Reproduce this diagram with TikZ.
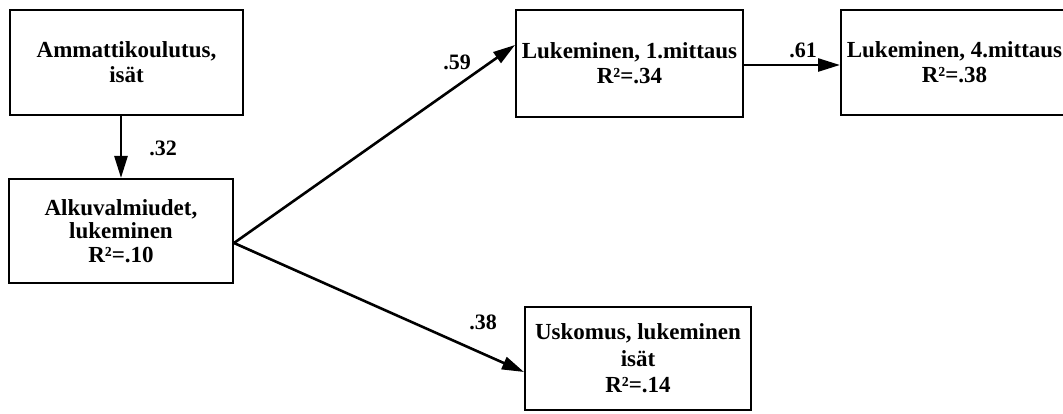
\documentclass[tikz,border=0pt]{standalone}
\usepackage{fontspec}
\setmainfont{Liberation Serif}
\usetikzlibrary{arrows.meta}
\tikzset{
  box/.style={draw, line width=2pt, inner sep=0pt, align=center,
    font=\fontsize{23}{25}\selectfont\bfseries},
  conn/.style={line width=2.6pt, -{Triangle[length=22pt,width=13pt]}},
  coef/.style={inner sep=0pt, font=\fontsize{22}{24}\selectfont\bfseries}
}
\begin{document}
\begin{tikzpicture}[x=1pt,y=-1pt]
\useasboundingbox (0,0) rectangle (1063,414);
\node[box, minimum width=233pt, minimum height=105pt] (A) at (126.5,62.5)
  {Ammattikoulutus,\\isät};
\node[box, minimum width=224pt, minimum height=104pt,
  font=\fontsize{23}{23.5}\selectfont\bfseries] (B) at (121,231)
  {Alkuvalmiudet,\\lukeminen\\R²=.10};
\node[box, minimum width=227pt, minimum height=107pt] (C) at (629.5,63.5)
  {Lukeminen, 1.mittaus\\R²=.34};
\node[box, minimum width=227pt, minimum height=105pt] (D) at (954.5,62.5)
  {Lukeminen, 4.mittaus\\R²=.38};
\node[box, minimum width=226pt, minimum height=103pt,
  font=\fontsize{23}{26.5}\selectfont\bfseries] (E) at (638,358.5)
  {Uskomus, lukeminen\\isät\\R²=.14};
\draw[conn] (B.north |- A.south) -- (B.north);
\draw[conn] ([yshift=-12pt]B.east) -- ([yshift=18.5pt]C.west);
\draw[conn] ([yshift=-12pt]B.east) -- ([yshift=-13.5pt]E.west);
\draw[conn] ([yshift=-1.5pt]C.east) -- ([yshift=-1.5pt]C.east -| D.west);
\node[coef] (l32) at (163,148) {.32};
\node[coef] (l59) at (457,62) {.59};
\node[coef] (l61) at (803,50) {.61};
\node[coef] (l38) at (483,322) {.38};
\end{tikzpicture}
\end{document}
